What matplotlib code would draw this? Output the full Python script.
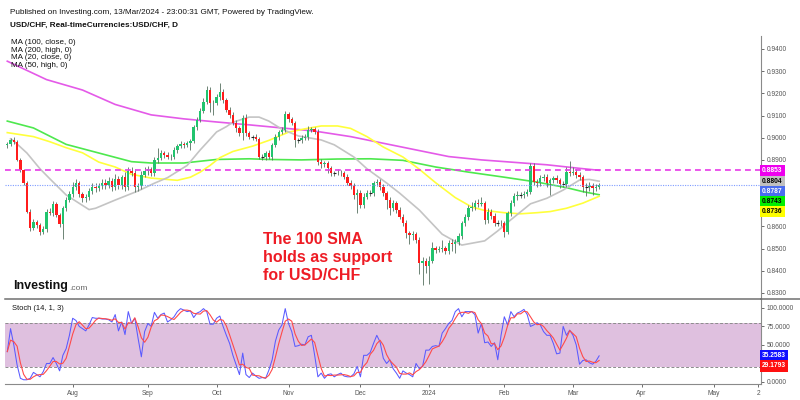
import matplotlib
matplotlib.use('Agg')
import matplotlib.pyplot as plt
from matplotlib.lines import Line2D
import matplotlib.transforms as mtransforms
import numpy as np
import pandas as pd

plt.rcParams['font.family'] = ['Liberation Sans', 'DejaVu Sans']

# daily USD/CHF closes, 4 Jul 2023 .. 13 Mar 2024
closes = [
    0.8972, 0.8990, 0.8982, 0.8900, 0.8855, 0.8795, 0.8667, 0.8592, 0.8618, 0.8607,
    0.8577, 0.8588, 0.8667, 0.8660, 0.8702, 0.8652, 0.8610, 0.8682, 0.8720, 0.8747,
    0.8780, 0.8795, 0.8747, 0.8728, 0.8732, 0.8758, 0.8776, 0.8773, 0.8783, 0.8798,
    0.8788, 0.8806, 0.8780, 0.8813, 0.8785, 0.8822, 0.8780, 0.8848, 0.8843, 0.8780,
    0.8783, 0.8833, 0.8848, 0.8860, 0.8843, 0.8900, 0.8908, 0.8930, 0.8922, 0.8915,
    0.8912, 0.8945, 0.8963, 0.8972, 0.8967, 0.8975, 0.8987, 0.9047, 0.9080, 0.9122,
    0.9163, 0.9215, 0.9155, 0.9158, 0.9182, 0.9207, 0.9170, 0.9125, 0.9102, 0.9068,
    0.9042, 0.9020, 0.9087, 0.9020, 0.9002, 0.9002, 0.8993, 0.8915, 0.8915, 0.8930,
    0.8912, 0.8967, 0.9005, 0.9027, 0.9035, 0.9107, 0.9083, 0.9068, 0.8990, 0.8990,
    0.9000, 0.9005, 0.9035, 0.9038, 0.9027, 0.8892, 0.8882, 0.8885, 0.8862, 0.8840,
    0.8840, 0.8843, 0.8840, 0.8825, 0.8797, 0.8782, 0.8742, 0.8750, 0.8697, 0.8735,
    0.8752, 0.8750, 0.8794, 0.8802, 0.8780, 0.8750, 0.8720, 0.8682, 0.8705, 0.8674,
    0.8644, 0.8614, 0.8569, 0.8561, 0.8564, 0.8539, 0.8434, 0.8446, 0.8422, 0.8446,
    0.8501, 0.8494, 0.8497, 0.8501, 0.8491, 0.8527, 0.8520, 0.8531, 0.8557, 0.8614,
    0.8644, 0.8682, 0.8689, 0.8704, 0.8701, 0.8704, 0.8629, 0.8667, 0.8647, 0.8617,
    0.8617, 0.8614, 0.8576, 0.8659, 0.8704, 0.8737, 0.8742, 0.8742, 0.8746, 0.8757,
    0.8872, 0.8802, 0.8794, 0.8817, 0.8824, 0.8794, 0.8809, 0.8817, 0.8809, 0.8791,
    0.8791, 0.8847, 0.8840, 0.8847, 0.8832, 0.8824, 0.8779, 0.8779, 0.8782, 0.8772,
    0.8779, 0.8787,
]
first_open = 0.8965

# wick lengths above / below the body, in pips
up_pips = [
    8, 10, 12, 6, 8, 6, 10, 12, 14, 10,
    8, 12, 10, 14, 12, 10, 8, 10, 12, 14,
    20, 18, 12, 10, 14, 16, 20, 18, 12, 14,
    16, 18, 14, 22, 16, 12, 24, 18, 20, 14,
    12, 16, 20, 14, 10, 12, 44, 14, 10, 12,
    10, 12, 10, 14, 10, 12, 8, 10, 12, 10,
    14, 20, 12, 14, 16, 38, 12, 10, 14, 12,
    10, 12, 16, 20, 12, 10, 14, 10, 12, 10,
    14, 10, 12, 10, 12, 14, 10, 12, 8, 10,
    12, 14, 20, 12, 10, 14, 10, 12, 10, 10,
    12, 14, 10, 12, 10, 14, 12, 20, 16, 14,
    12, 14, 12, 10, 14, 12, 10, 14, 12, 10,
    12, 10, 14, 12, 16, 10, 12, 14, 10, 20,
    30, 12, 14, 40, 12, 14, 18, 12, 14, 12,
    10, 14, 20, 14, 18, 30, 12, 14, 10, 12,
    14, 10, 12, 10, 14, 16, 20, 14, 12, 10,
    14, 12, 14, 16, 12, 14, 10, 12, 14, 10,
    12, 20, 50, 22, 14, 12, 10, 16, 20, 14,
    12, 10,
]
dn_pips = [
    10, 8, 10, 6, 8, 10, 8, 14, 10, 12,
    14, 10, 12, 10, 12, 10, 14, 65, 12, 10,
    12, 14, 16, 20, 18, 14, 12, 16, 14, 12,
    18, 14, 20, 16, 18, 14, 20, 16, 14, 26,
    22, 14, 12, 18, 14, 16, 12, 10, 14, 12,
    14, 10, 12, 10, 12, 10, 30, 10, 12, 8,
    10, 12, 40, 53, 12, 10, 14, 10, 12, 10,
    14, 10, 30, 12, 10, 14, 10, 12, 14, 16,
    10, 12, 10, 14, 12, 10, 14, 12, 30, 12,
    12, 10, 14, 10, 12, 14, 20, 12, 22, 14,
    12, 10, 14, 12, 10, 14, 20, 80, 12, 14,
    10, 12, 14, 12, 16, 14, 40, 30, 12, 14,
    12, 14, 20, 40, 20, 14, 50, 100, 30, 80,
    12, 14, 10, 12, 16, 14, 30, 40, 14, 12,
    10, 14, 12, 16, 14, 10, 20, 14, 12, 14,
    16, 14, 24, 10, 12, 14, 16, 14, 12, 10,
    12, 14, 16, 12, 10, 14, 50, 12, 14, 16,
    14, 12, 14, 10, 12, 16, 22, 42, 20, 30,
    14, 10,
]

# moving averages, sampled at bar indices
ma200_idx = [0, 12, 23, 33, 44, 54, 64, 74, 84, 94, 105, 115, 125, 135, 145, 155, 165, 175, 181]
ma200_val = [0.9345, 0.9262, 0.9215, 0.9150, 0.9103, 0.9085, 0.9071, 0.9058, 0.9044, 0.9030,
             0.9005, 0.8975, 0.8945, 0.8915, 0.8900, 0.8889, 0.8878, 0.8862, 0.8853]
ma100_idx = [0, 8, 18, 28, 38, 44, 54, 64, 74, 80, 90, 101, 111, 121, 131, 141, 152, 162, 171, 176, 181]
ma100_val = [0.9075, 0.9044, 0.8970, 0.8931, 0.8892, 0.8886, 0.8886, 0.8902, 0.8905, 0.8902,
             0.8900, 0.8904, 0.8905, 0.8898, 0.8868, 0.8845, 0.8822, 0.8800, 0.8775, 0.8757, 0.8743]
ma50_idx = [0, 8, 13, 18, 23, 28, 33, 38, 44, 52, 56, 59, 62, 65, 69, 75, 80, 86, 91, 96,
            101, 105, 110, 115, 121, 126, 131, 137, 142, 146, 152, 157, 162, 166, 171, 176, 181]
ma50_val = [0.9023, 0.9005, 0.8982, 0.8955, 0.8932, 0.8890, 0.8868, 0.8835, 0.8818, 0.8808,
            0.8822, 0.8845, 0.8875, 0.8910, 0.8938, 0.8962, 0.8988, 0.9025, 0.9040, 0.9053,
            0.9053, 0.9042, 0.9005, 0.8958, 0.8913, 0.8858, 0.8797, 0.8730, 0.8688, 0.8672,
            0.8662, 0.8657, 0.8662, 0.8667, 0.8682, 0.8705, 0.8736]
ma20_idx = [1, 2, 6, 10, 13, 18, 25, 27, 33, 40, 45, 49, 55, 59, 61, 64, 67, 69, 74, 77,
            80, 84, 89, 96, 100, 106, 110, 116, 120, 126, 133, 139, 146, 150, 154, 160, 165, 170, 175, 178, 181]
ma20_val = [0.8995, 0.8985, 0.8931, 0.8860, 0.8815, 0.8742, 0.8676, 0.8682, 0.8719, 0.8760,
            0.8795, 0.8820, 0.8875, 0.8945, 0.8977, 0.9026, 0.9050, 0.9070, 0.9093, 0.9093,
            0.9075, 0.9038, 0.9008, 0.8990, 0.8968, 0.8913, 0.8860, 0.8796, 0.8750, 0.8674,
            0.8565, 0.8516, 0.8535, 0.8580, 0.8630, 0.8702, 0.8727, 0.8764, 0.8809, 0.8812, 0.8804]

# stochastic %K
stoch_k = [
    41, 72, 50, 23, 5, 3, 3, 5, 13, 10,
    7, 14, 25, 25, 33, 25, 15, 36, 45, 63,
    86, 83, 75, 72, 69, 77, 87, 86, 86, 85,
    85, 84, 81, 91, 69, 81, 64, 95, 79, 86,
    59, 34, 68, 79, 75, 94, 86, 91, 93, 81,
    84, 88, 95, 99, 97, 95, 96, 87, 93, 95,
    99, 95, 78, 78, 86, 89, 75, 63, 52, 36,
    23, 10, 39, 10, 6, 12, 8, 5, 6, 5,
    16, 30, 55, 70, 77, 99, 79, 68, 48, 49,
    51, 50, 61, 63, 36, 7, 12, 5, 10, 11,
    7, 10, 12, 8, 7, 7, 11, 21, 7, 36,
    36, 40, 52, 63, 54, 32, 25, 30, 18, 12,
    5, 15, 12, 10, 7, 25, 18, 21, 43, 43,
    48, 49, 48, 66, 72, 79, 83, 95, 99, 88,
    95, 95, 95, 91, 66, 79, 53, 54, 48, 53,
    30, 63, 88, 77, 95, 88, 93, 95, 98, 91,
    75, 77, 80, 77, 68, 63, 63, 52, 38, 39,
    75, 63, 70, 63, 50, 24, 29, 30, 26, 24,
    28, 35.2583,
]

price_last = 0.8787
hline_level = 0.8853
month_labels = ['Aug', 'Sep', 'Oct', 'Nov', 'Dec', '2024', 'Feb', 'Mar', 'Apr', 'May']
price_ticks = [0.83, 0.84, 0.85, 0.86, 0.87, 0.88, 0.89, 0.90, 0.91, 0.92, 0.93, 0.94]
price_tick_labels = ['0.8300', '0.8400', '0.8500', '0.8600', '', '', '0.8900',
                     '0.9000', '0.9100', '0.9200', '0.9300', '0.9400']
stoch_ticks = [0, 25, 50, 75, 100]
stoch_tick_labels = ['0.0000', '', '50.0000', '75.0000', '100.0000']

GREEN = '#22c46e'
RED = '#ff1c1c'
WICK = '#56705f'
C200 = '#e45ae8'
C100 = '#4ee84e'
C50 = '#ffff3c'
C20 = '#c4c4c4'

n = len(closes)
assert len(up_pips) == n and len(dn_pips) == n and len(stoch_k) == n
dates = pd.bdate_range('2023-07-04', '2024-05-31')
x = np.arange(n)
c = np.array(closes)
o = np.r_[first_open, c[:-1]]
hi = np.maximum(o, c) + np.array(up_pips) * 1e-4
lo = np.minimum(o, c) - np.array(dn_pips) * 1e-4

fig = plt.figure(figsize=(8, 4), dpi=100)
W, H = 800.0, 400.0
ax = fig.add_axes([5 / W, 1 - 299 / H, 756 / W, 263 / H])
ax2 = fig.add_axes([5 / W, 1 - 384 / H, 756 / W, 85 / H])

xlim = (-0.7, 230.5)

# ---- price panel ----
ax.plot(ma200_idx, ma200_val, color=C200, lw=1.2, zorder=2)
ax.plot(ma100_idx, ma100_val, color=C100, lw=1.2, zorder=2)
ax.plot(ma50_idx, ma50_val, color=C50, lw=1.2, zorder=2)
ax.plot(ma20_idx, ma20_val, color=C20, lw=1.2, zorder=2)

ax.vlines(x, lo, hi, color=WICK, lw=0.6, zorder=3)
body = np.abs(c - o)
flat = body < 0.00025
rise = (c >= o) & ~flat
fall = (c < o) & ~flat
ax.bar(x[rise], body[rise], bottom=o[rise], width=0.72, color=GREEN, lw=0, zorder=4)
ax.bar(x[fall], body[fall], bottom=c[fall], width=0.72, color=RED, lw=0, zorder=4)
ax.hlines(c[flat], x[flat] - 0.45, x[flat] + 0.45, color='#222222', lw=0.8, zorder=4)

ax.axhline(hline_level, color='#e83ae8', lw=1.2, dashes=(3.5, 2.5), zorder=5)
ax.axhline(price_last, color='#7f9cff', lw=0.8, ls=(0, (1, 1.2)), zorder=5)

ax.set_xlim(*xlim)
ax.set_ylim(0.82729, 0.94586)
ax.set_xticks([])
ax.yaxis.tick_right()
ax.set_yticks(price_ticks)
ax.set_yticklabels(price_tick_labels)
ax.tick_params(axis='y', labelsize=4.8, colors='#555555', length=2.5, width=0.6, pad=1.5)
for s in ['top', 'left', 'bottom']:
    ax.spines[s].set_visible(False)
ax.spines['right'].set_color('#8a8a8a')
ax.spines['right'].set_linewidth(0.8)

# ---- stochastic panel ----
ax2.axhspan(20, 80, color='#dfc0df', lw=0, zorder=0)
ax2.axhline(20, color='#8c8c8c', lw=0.7, dashes=(3, 2), zorder=1)
ax2.axhline(80, color='#8c8c8c', lw=0.7, dashes=(3, 2), zorder=1)
stoch_d = pd.Series(stoch_k).rolling(3, min_periods=1).mean().values
ax2.plot(x, stoch_k, color='#5a5aff', lw=0.75, zorder=3)
ax2.plot(x, stoch_d, color='#ff4a4a', lw=0.8, zorder=3)
ax2.set_xlim(*xlim)
ax2.set_ylim(-2.7, 112)
ax2.yaxis.tick_right()
ax2.set_yticks(stoch_ticks)
ax2.set_yticklabels(stoch_tick_labels)
ax2.tick_params(axis='y', labelsize=4.8, colors='#555555', length=2.5, width=0.6, pad=1.5)

month_pos = []
for m in pd.period_range('2023-08', '2024-05', freq='M'):
    month_pos.append(int(np.argmax((dates.year == m.year) & (dates.month == m.month))))
month_pos.append(229.6)
ax2.set_xticks(month_pos)
ax2.set_xticklabels(month_labels + ['2'])
ax2.tick_params(axis='x', labelsize=4.8, colors='#555555', length=2.5, width=0.6, pad=1.5)
ax2.spines['left'].set_visible(False)
for s in ['top', 'right', 'bottom']:
    ax2.spines[s].set_color('#8a8a8a')
    ax2.spines[s].set_linewidth(0.8)
ax2.spines['top'].set_color('#707070')
ax2.spines['top'].set_linewidth(1.1)
fig.add_artist(Line2D([761 / W, 1.0], [1 - 299 / H] * 2, transform=fig.transFigure,
                      color='#707070', lw=1.1))


def side_labels(axis, items, gap=10):
    # stack value boxes on the right axis so they don't overlap
    trans = mtransforms.blended_transform_factory(axis.transAxes, axis.transData)
    prev = None
    for val, text, fc, tc in items:
        yd = axis.transData.transform((0, val))[1]
        if prev is not None and yd > prev - gap:
            yd = prev - gap
        prev = yd
        yv = axis.transData.inverted().transform((0, yd))[1]
        axis.text(1.0015, yv, text, transform=trans, ha='left', va='center',
                  fontsize=4.8, fontweight='bold', color=tc, zorder=10, clip_on=False,
                  bbox=dict(boxstyle='square,pad=0.32', fc=fc, ec='none'))


side_labels(ax, [
    (0.8853, '0.8853', '#ee00ee', 'white'),
    (0.8804, '0.8804', '#c0c0c0', 'black'),
    (0.8787, '0.8787', '#4a6cf0', 'white'),
    (0.8743, '0.8743', '#00ee00', 'black'),
    (0.8736, '0.8736', '#ffff00', 'black'),
])
side_labels(ax2, [
    (stoch_k[-1], '35.2583', '#1010ff', 'white'),
    (stoch_d[-1], '29.1793', '#ff1010', 'white'),
])

# ---- texts ----
fig.text(10 / W, 1 - 12 / H,
         'Published on Investing.com, 13/Mar/2024 - 23:00:31 GMT, Powered by TradingView.',
         fontsize=5.9, va='center', color='#111111')
fig.text(10 / W, 1 - 25 / H, 'USD/CHF, Real-timeCurrencies:USD/CHF, D',
         fontsize=5.9, fontweight='bold', va='center', color='#111111')
for k, t in enumerate(['MA (100, close, 0)', 'MA (200, high, 0)',
                       'MA (20, close, 0)', 'MA (50, high, 0)']):
    fig.text(11 / W, 1 - (43 + 7.4 * k) / H, t, fontsize=5.8, va='center', color='#111111')

for k, t in enumerate(['The 100 SMA', 'holds as support', 'for USD/CHF']):
    fig.text(263 / W, 1 - (240 + 17.5 * k) / H, t, fontsize=11.5, fontweight='bold',
             va='center', color='#ee1c25')

fig.text(13 / W, 1 - 286 / H, 'Investing', fontsize=9, fontweight='bold', va='center',
         color='#111111')
fig.text(69 / W, 1 - 288 / H, '.com', fontsize=6, va='center', color='#666666')
fig.text(12 / W, 1 - 309 / H, 'Stoch (14, 1, 3)', fontsize=5.4, va='center', color='#111111')

fig.savefig('out.png', dpi=100)
